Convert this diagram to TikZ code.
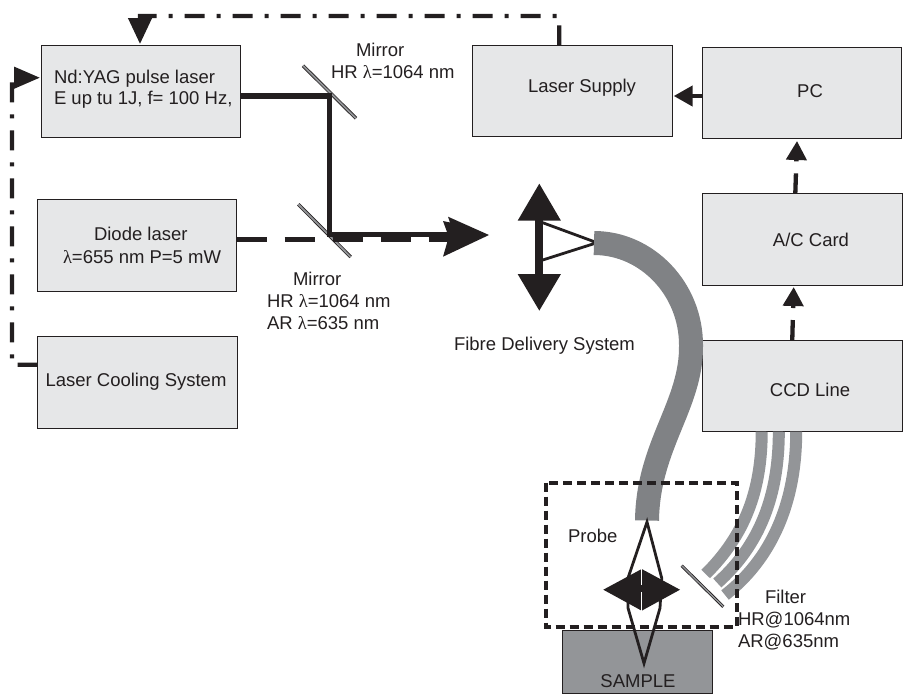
\documentclass[tikz,border=0pt]{standalone}
\usepackage{fontspec}
\setmainfont{Liberation Sans}
\newfontfamily\lamf{Liberation Serif}
\usetikzlibrary{arrows.meta}
\definecolor{ink}{HTML}{231F20}
\definecolor{boxgray}{HTML}{E6E7E8}
\definecolor{midgray}{HTML}{939598}
\definecolor{fibgray}{HTML}{808285}
\newcommand{\lam}{{\lamf λ}}
\tikzset{
  box/.style={draw=ink,line width=1pt,fill=boxgray,inner sep=0pt,outer sep=0pt},
  lbl/.style={text=ink,inner sep=0pt,outer sep=0pt,align=left,font=\fontsize{18.5}{22}\selectfont},
  ctl/.style={ink,line width=4.3pt,dash pattern=on 20pt off 12pt on 4pt off 12pt},
  beam/.style={ink,line width=5.8pt,line join=miter},
  mirrorO/.style={ink,line width=3.4pt},
  mirrorI/.style={midgray,line width=1.8pt},
  fibA/.style={midgray,line width=12pt},
  fibB/.style={fibgray,line width=24pt},
  ray/.style={ink,line width=2.8pt,line join=miter},
}
\begin{document}
\begin{tikzpicture}[x=1pt,y=-1pt]
\useasboundingbox (0,0) rectangle (904,697);
% boxes
\node[box,minimum width=199.2pt,minimum height=91.3pt] (yag) at (140.9,91.35) {};
\node[box,minimum width=199.4pt,minimum height=91.3pt] (diode) at (137,245.35) {};
\node[box,minimum width=199.6pt,minimum height=91.3pt] (cool) at (137.5,382.35) {};
\node[box,minimum width=199.7pt,minimum height=91.2pt] (ps) at (572.15,90.9) {};
\node[box,minimum width=199.4pt,minimum height=91pt] (pc) at (802,92.5) {};
\node[box,minimum width=199.7pt,minimum height=91.7pt] (ac) at (802.15,239.15) {};
\node[box,minimum width=199.6pt,minimum height=91.7pt] (ccd) at (802.5,385.85) {};
\node[box,fill=midgray,minimum width=150pt,minimum height=63.3pt] (sample) at (637.3,661.65) {};
% labels
\node[lbl,anchor=base west] (yagT) at (54,104) {Nd:YAG pulse laser\\[-1pt]E up tu 1J, f= 100 Hz,};
\node[lbl,anchor=base west] (diodeT) at (63,263) {\hspace*{31pt}Diode laser\\[1pt]\lam=655 nm P=5 mW};
\node[lbl,anchor=base] (coolT) at (136,386) {Laser Cooling System};
\node[lbl,anchor=base] (psT) at (582,92) {Laser Supply};
\node[lbl,anchor=base] (pcT) at (810,97) {PC};
\node[lbl,anchor=base] (acT) at (811,246) {A/C Card};
\node[lbl,anchor=base] (ccdT) at (810,396) {CCD Line};
\node[lbl,anchor=base] (sampleT) at (638,687) {SAMPLE};
\node[lbl,anchor=base west] (m1T) at (331,78) {\hspace*{25pt}Mirror\\HR \lam=1064 nm};
\node[lbl,anchor=base west] (m2T) at (267,329) {\hspace*{26pt}Mirror\\HR \lam=1064 nm\\AR \lam=635 nm};
\node[lbl,anchor=base west] (fibT) at (454,350) {Fibre Delivery System};
\node[lbl,anchor=base west] (probeT) at (568,542) {Probe};
\node[lbl,anchor=base west] (filT) at (738,647) {\hspace*{27pt}Filter\\HR@1064nm\\AR@635nm};
% mirrors
\coordinate (m1a) at (303,65.7);
\coordinate (m1b) at (356,118.3);
\coordinate (m2a) at (298.3,204.3);
\coordinate (m2b) at (350.7,257);
\draw[mirrorO] (m1a) -- (m1b);
\draw[mirrorI] (m1a) -- (m1b);
\draw[mirrorO] (m2a) -- (m2b);
\draw[mirrorI] (m2a) -- (m2b);
% beams
\coordinate (bend1) at (329.5,96);
\coordinate (bend2) at (329.5,234.5);
\coordinate (beamEnd) at (450,234.5);
\coordinate (diodeEnd) at (450,239.5);
\draw[beam] ([yshift=-4.65pt]yag.east) -- (bend1) -- (bend2) -- (beamEnd);
\draw[beam,dash pattern=on 30pt off 18pt] ([yshift=5.85pt]diode.east) -- (diodeEnd);
\fill[ink] (489,235) -- (448,216.7) -- (450,222.5) -- (443,221) -- (447,232) -- (447,243) -- (443,256.7) -- cycle;
% control lines
\coordinate (topR) at (559.3,16);
\coordinate (topL) at (140,16);
\coordinate (leftB) at (12,364.7);
\coordinate (leftT) at (12,77.7);
\draw[ctl,-{Triangle[length=26pt,width=23pt]}] ([xshift=-12.85pt]ps.north) -- (topR) -- (topL) -- ([xshift=-0.9pt,yshift=1.7pt]yag.north);
\draw[ctl,-{Triangle[length=26pt,width=21pt]}] ([yshift=17.65pt]cool.west) -- (leftB) -- (leftT) -- ([xshift=-1.3pt,yshift=13.65pt]yag.west);
\draw[ink,line width=4.3pt,-{Triangle[length=19pt,width=20pt]}] ([yshift=-3.5pt]pc.west) -- ([xshift=1.7pt,yshift=-5.1pt]ps.east);
\draw[ctl,-{Triangle[length=19pt,width=20pt]}] ([xshift=-6.85pt]ac.north) -- ([xshift=-5pt,yshift=-3pt]pc.south);
\draw[ctl,-{Triangle[length=19pt,width=20pt]}] ([xshift=-10.25pt]ccd.north) -- ([xshift=-8.45pt,yshift=-2pt]ac.south);
% upper lens
\coordinate (lensT) at (539.3,183.3);
\coordinate (lensB) at (539.3,311);
\draw[ink,line width=8pt,{Triangle[length=37.4pt,width=41pt]}-{Triangle[length=37pt,width=41pt]}] (lensT) -- (lensB);
\draw[ray] (542.7,222.7) -- (597,242.7) -- (542.7,260);
% fibres
\draw[fibB] (594,243) .. controls (647,243) and (691,289) .. (691,345) .. controls (692,405) and (648,445) .. (647,520.5);
\draw[fibA] ([xshift=-40.8pt]ccd.south) .. controls (761.7,490) and (745,535) .. (705.7,574);
\draw[fibA] ([xshift=-23.7pt]ccd.south) .. controls (778.8,495) and (760,545) .. (717.3,583);
\draw[fibA] ([xshift=-6.3pt]ccd.south) .. controls (796.2,505) and (770,560) .. (725,595);
% probe
\draw[ink,line width=4.3pt,dash pattern=on 9pt off 5pt] (545.7,482.7) rectangle (736.7,626.7);
\draw[ray] (647,522) -- (628,578) -- (628,608) -- (644,663.3) -- (660,608) -- (661.7,578) -- cycle;
\fill[ink] (603.3,589.7) -- (641.7,569) -- (680,589.7) -- (641.7,610.7) -- cycle;
\draw[white,line width=1pt] (641.7,569) -- (641.7,585);
\draw[white,line width=1pt] (641.7,592) -- (641.7,610.7);
\draw[ink,line width=3pt] (681.7,565.7) -- (723.3,606.7);
\draw[midgray,line width=1.4pt] (681.7,565.7) -- (723.3,606.7);
\end{tikzpicture}
\end{document}
